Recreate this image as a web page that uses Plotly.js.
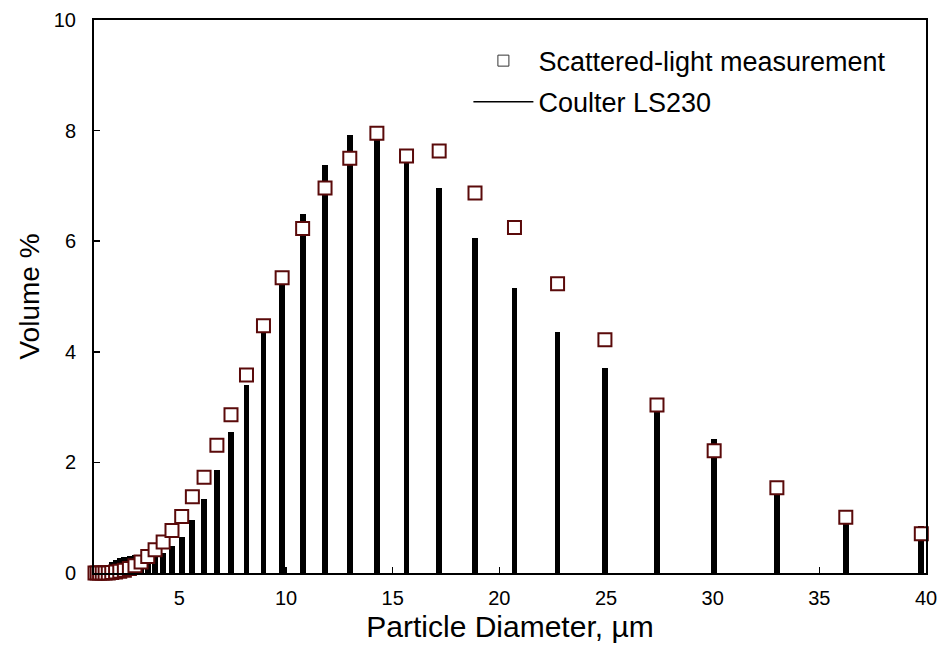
<!DOCTYPE html>
<html>
<head>
<meta charset="utf-8">
<script src="https://cdn.plot.ly/plotly-3.0.1.min.js"></script>
<style>html,body{margin:0;padding:0;background:#fff;}#chart{width:939px;height:649px;}</style>
</head>
<body>
<div id="chart"></div>
<script>
// Particle diameters (µm), LS230 channel sizes
var diameters = [1.047, 1.149, 1.261, 1.385, 1.520, 1.669, 1.832, 2.011, 2.208, 2.423,
  2.660, 2.920, 3.206, 3.519, 3.863, 4.241, 4.656, 5.111, 5.611, 6.159,
  6.761, 7.422, 8.148, 8.944, 9.819, 10.78, 11.83, 12.99, 14.26, 15.65,
  17.18, 18.86, 20.71, 22.73, 24.95, 27.39, 30.07, 33.01, 36.24, 39.78];

// Coulter LS230 volume % (black bars)
var coulter = [0.03, 0.05, 0.07, 0.09, 0.12, 0.15, 0.19, 0.23, 0.27, 0.29,
  0.31, 0.32, 0.31, 0.29, 0.30, 0.37, 0.49, 0.66, 0.96, 1.34,
  1.86, 2.55, 3.40, 4.34, 5.25, 6.49, 7.38, 7.92, 7.90, 7.66,
  6.96, 6.06, 5.15, 4.36, 3.71, 2.98, 2.42, 1.50, 0.98, 0.85];

// Scattered-light measurement volume % (open squares)
var scattered = [0, 0, 0, 0, 0, 0, 0.01, 0.02, 0.03, 0.05,
  0.08, 0.13, 0.20, 0.30, 0.42, 0.56, 0.77, 1.02, 1.38, 1.73,
  2.31, 2.86, 3.58, 4.47, 5.34, 6.23, 6.96, 7.50, 7.95, 7.54,
  7.63, 6.87, 6.25, 5.23, 4.22, 3.04, 2.21, 1.54, 1.01, 0.71];

var xTickVals = [5, 10, 15, 20, 25, 30, 35, 40];
var yTickVals = [0, 2, 4, 6, 8, 10];

var FONT = '"Liberation Sans", Arial, sans-serif';

var traces = [
  {
    type: 'bar', x: diameters, y: coulter, width: 0.27,
    marker: {color: '#000000', line: {width: 0}},
    showlegend: false, hoverinfo: 'x+y'
  },
  {
    type: 'scatter', mode: 'markers', x: diameters, y: scattered,
    marker: {symbol: 'square', size: 13, color: '#ffffff', line: {color: '#5a0a0a', width: 2}},
    cliponaxis: false, showlegend: false
  },
  {
    type: 'scatter', mode: 'markers', x: [null], y: [null],
    name: 'Scattered-light measurement', legendgroup: 'a',
    marker: {symbol: 'square', size: 11, color: '#ffffff', line: {color: '#333333', width: 1}}
  },
  {
    type: 'scatter', mode: 'lines', x: [null], y: [null],
    name: 'Coulter LS230', legendgroup: 'b',
    line: {color: '#000000', width: 1.5}
  }
];

var layout = {
  width: 939, height: 649,
  margin: {l: 94, r: 13, t: 20, b: 76},
  paper_bgcolor: '#ffffff', plot_bgcolor: '#ffffff',
  font: {family: FONT, color: '#000000'},
  bargap: 0,
  showlegend: true,
  legend: {
    x: 0.450, xanchor: 'left', y: 0.970, yanchor: 'top',
    bgcolor: 'rgba(0,0,0,0)', borderwidth: 0,
    font: {family: FONT, size: 27, color: '#000000'},
    traceorder: 'grouped', tracegroupgap: 3,
    itemwidth: 60
  },
  xaxis: {
    range: [1, 40], tickvals: xTickVals, ticktext: xTickVals.map(String),
    ticks: 'inside', ticklen: 6, tickwidth: 1.5, tickcolor: '#000',
    showline: true, linecolor: '#000', linewidth: 2, mirror: true,
    showgrid: false, zeroline: false,
    tickfont: {family: FONT, size: 20, color: '#000'},
    ticklabelstandoff: 6,
    title: {text: 'Particle Diameter, µm', font: {family: FONT, size: 30, color: '#000'}, standoff: 8}
  },
  yaxis: {
    range: [0, 10], tickvals: yTickVals, ticktext: yTickVals.map(String),
    ticks: 'inside', ticklen: 6, tickwidth: 1.5, tickcolor: '#000',
    showline: true, linecolor: '#000', linewidth: 2, mirror: true,
    showgrid: false, zeroline: false,
    tickfont: {family: FONT, size: 20, color: '#000'},
    ticklabelstandoff: 12,
    title: {text: 'Volume %', font: {family: FONT, size: 28, color: '#000'}, standoff: 6}
  }
};

Plotly.newPlot('chart', traces, layout, {displayModeBar: false, staticPlot: true});
</script>
</body>
</html>
